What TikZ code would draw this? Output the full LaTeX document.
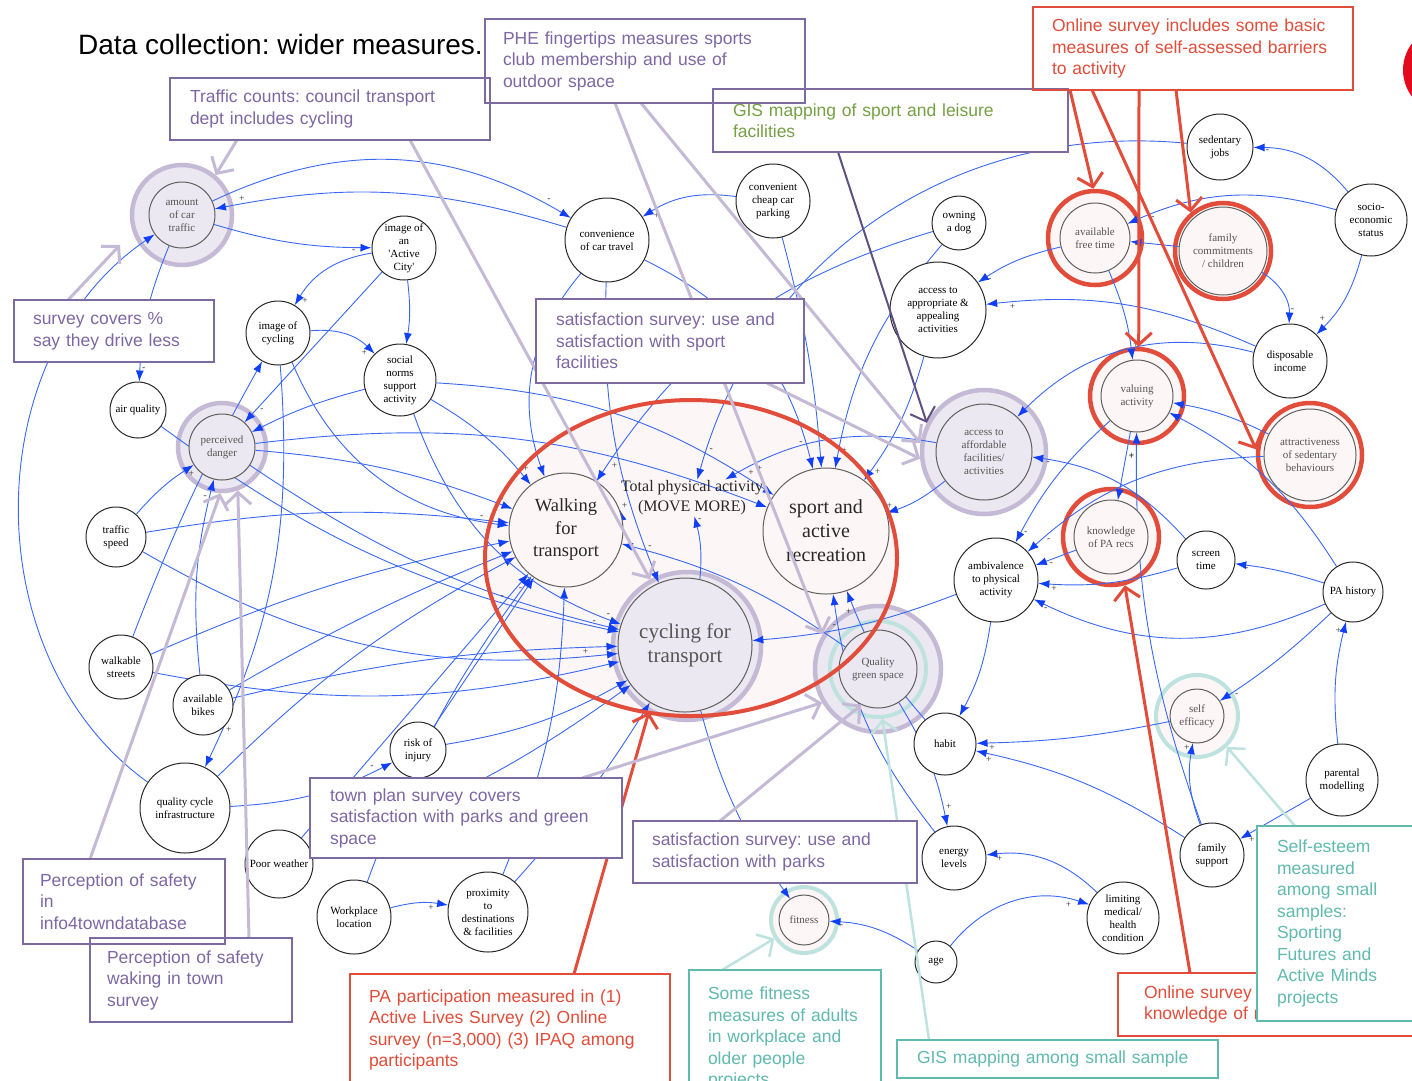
\documentclass[tikz,border=0pt]{standalone}
\usepackage{fontspec}
\setmainfont{Liberation Serif}
\newfontfamily\annofam{Liberation Sans}
\usetikzlibrary{arrows.meta,positioning}

\definecolor{linkblue}{RGB}{58,104,245}
\definecolor{tipblue}{RGB}{16,64,245}
\definecolor{ndline}{RGB}{40,40,40}
\definecolor{ndgray}{RGB}{95,95,95}
\definecolor{txtgray}{RGB}{85,85,85}
\definecolor{lavline}{RGB}{196,186,214}
\definecolor{lavfill}{RGB}{236,232,241}
\definecolor{redline}{RGB}{225,77,58}
\definecolor{pinkfill}{RGB}{253,246,246}
\definecolor{tealline}{RGB}{190,226,222}
\definecolor{tealtext}{RGB}{96,186,174}
\definecolor{boxline}{RGB}{124,106,160}
\definecolor{boxtext}{RGB}{125,104,163}
\definecolor{gistext}{RGB}{118,160,68}
\definecolor{gisline}{RGB}{96,80,130}
\definecolor{blobred}{RGB}{228,10,30}

\pgfdeclarelayer{ell}
\pgfdeclarelayer{ring}
\pgfdeclarelayer{links}
\pgfdeclarelayer{over}
\pgfdeclarelayer{boxfill}
\pgfdeclarelayer{boxes}
\pgfsetlayers{ell,ring,links,main,over,boxfill,boxes}

\newcommand{\ndfont}{\fontsize{11}{13}\selectfont}
\newcommand{\annofont}{\annofam\fontsize{17.5}{21.5}\selectfont}

\begin{document}
\frenchspacing
\begin{tikzpicture}[
  x=1pt, y=-1pt,
  nd/.style={circle, draw=ndline, line width=1pt, fill=white, inner sep=0pt,
    align=center, font=\ndfont},
  inlav/.style={nd, draw=ndgray, fill=lavfill, text=txtgray},
  inpink/.style={nd, draw=ndgray, fill=pinkfill, text=txtgray},
  bignd/.style={nd, draw=ndgray, fill=pinkfill, text=ndline},
  lavring/.style={circle, draw=lavline, line width=4.5pt, fill=lavfill, inner sep=0pt},
  redring/.style={circle, draw=redline, line width=4.5pt, fill=pinkfill, inner sep=0pt},
  tealring/.style={circle, draw=tealline, line width=4pt, fill=pinkfill, inner sep=0pt},
  lk/.style={draw=linkblue, line width=0.9pt, -{Latex[length=11pt,width=8pt,color=tipblue]}},
  sg/.style={font=\fontsize{9.5}{9.5}\selectfont, inner sep=1.5pt, text=ndline},
  anno/.style={draw=boxline, line width=1.6pt, anchor=north west, align=left,
    font=\annofont, text=boxtext, inner ysep=0pt, outer sep=0pt},
  redbox/.style={anno, draw=redline, text=redline},
  tealbox/.style={anno, draw=tealtext, text=tealtext},
  annlav/.style={draw=lavline, line width=3pt, -{Straight Barb[length=12pt,width=26pt]}},
  annred/.style={annlav, draw=redline},
  annteal/.style={annlav, draw=tealline, line width=2.5pt},
  anngis/.style={annlav, draw=gisline, line width=2pt}
]
\useasboundingbox (0,0) rectangle (1412,1080);

% concepts, left
\node[inlav,minimum size=66] (amt) at (182,215) {amount\\of car\\traffic};
\node[nd,minimum size=64] (city) at (404,248) {image of\\an\\\textquotesingle Active\\City\textquotesingle};
\node[nd,minimum size=64] (imgcyc) at (278,333) {image of\\cycling};
\node[nd,minimum size=72] (norms) at (400,380) {social\\norms\\support\\activity};
\node[nd,minimum size=56] (air) at (138,410) {air quality};
\node[inlav,minimum size=66] (danger) at (222,447) {perceived\\danger};
\node[nd,minimum size=60] (tspeed) at (116,537) {traffic\\speed};
\node[nd,minimum size=64] (walkst) at (121,667) {walkable\\streets};
\node[nd,minimum size=60] (bikes) at (203,705) {available\\bikes};
\node[nd,minimum size=90] (infra) at (185,808) {quality cycle\\infrastructure};
\node[nd,minimum size=56] (risk) at (418,750) {risk of\\injury};
\node[nd,minimum size=68] (weather) at (279,864) {Poor weather};
\node[nd,minimum size=74] (work) at (354,917) {Workplace\\location};
\node[nd,minimum size=80] (prox) at (488,912) {proximity\\to\\destinations\\\& facilities};

% concepts, top
\node[nd,minimum size=84] (conv) at (607,240) {convenience\\of car travel};
\node[nd,minimum size=74] (park) at (773,201) {convenient\\cheap car\\parking};
\node[nd,minimum size=54] (dog) at (959,223) {owning\\a dog};
\node[nd,minimum size=96] (appeal) at (938,310) {access to\\appropriate \&\\appealing\\activities};

% concepts, right
\node[inpink,minimum size=70] (free) at (1095,238) {available\\free time};
\node[inpink,minimum size=88] (family) at (1223,251) {family\\commitments\\/ children};
\node[nd,minimum size=66] (sedjobs) at (1220,147) {sedentary\\jobs};
\node[nd,minimum size=72] (ses) at (1371,220) {socio-\\economic\\status};
\node[nd,minimum size=74] (income) at (1290,361) {disposable\\income};
\node[inpink,minimum size=72] (valuing) at (1137,396) {valuing\\activity};
\node[inpink,minimum size=92] (attract) at (1310,455) {attractiveness\\of sedentary\\behaviours};
\node[inlav,minimum size=96] (afford) at (984,452) {access to\\affordable\\facilities/\\activities};
\node[inpink,minimum size=74] (know) at (1111,537) {knowledge\\of PA recs};
\node[nd,minimum size=58] (screen) at (1206,560) {screen\\time};
\node[nd,minimum size=60] (pahist) at (1353,592) {PA history};
\node[nd,minimum size=84] (ambiv) at (996,580) {ambivalence\\to physical\\activity};
\node[inpink,minimum size=54] (selfeff) at (1197,716) {self\\efficacy};
\node[nd,minimum size=62] (habit) at (945,744) {habit};
\node[nd,minimum size=72] (parent) at (1342,780) {parental\\modelling};
\node[nd,minimum size=64] (famsup) at (1212,855) {family\\support};
\node[nd,minimum size=64] (energy) at (954,858) {energy\\levels};
\node[inpink,minimum size=50] (fit) at (804,920) {fitness};
\node[nd,minimum size=42] (age) at (936,962) {age};
\node[nd,minimum size=72] (medical) at (1123,918) {limiting\\medical/\\health\\condition};
\node[inlav,minimum size=78] (green) at (878,669) {Quality\\green space};

% outcomes
\node[bignd,minimum size=114,font=\fontsize{18.5}{22.5}\selectfont] (walk) at (566,530) {Walking\\for\\transport};
\node[bignd,minimum size=126,font=\fontsize{20}{24}\selectfont] (sport) at (826,531) {sport and\\active\\recreation};
\node[inlav,minimum size=134,font=\fontsize{21}{24}\selectfont] (cycle) at (685,645) {cycling for\\transport};
\node[align=center,text=ndline,inner sep=1pt,font=\fontsize{16}{20}\selectfont] (total) at (692,498) {Total physical activity\\(MOVE MORE)};

\begin{pgfonlayer}{ring}
\node[lavring,minimum size=100] (amtR) at (amt) {};
\node[lavring,minimum size=88] (dangerR) at (danger) {};
\node[lavring,minimum size=124] (affordR) at (afford) {};
\node[lavring,minimum size=148] (cycleR) at (687,646) {};
\node[lavring,minimum size=126] (greenR) at (green) {};
\node[tealring,fill=lavfill,minimum size=96] (greenT) at (green) {};
\node[redring,minimum size=94] (freeR) at (free) {};
\node[redring,minimum size=96] (familyR) at (family) {};
\node[redring,minimum size=94] (valuingR) at (valuing) {};
\node[redring,minimum size=104] (attractR) at (attract) {};
\node[redring,minimum size=96] (knowR) at (know) {};
\node[tealring,minimum size=82] (selfeffR) at (selfeff) {};
\node[tealring,minimum size=66] (fitR) at (fit) {};
\end{pgfonlayer}

\begin{pgfonlayer}{ell}
\fill[pinkfill] (691,558) ellipse [x radius=206, y radius=158];
\end{pgfonlayer}

\begin{pgfonlayer}{links}
% left cluster
\draw[lk] (amt) to[bend left=28] node[sg,pos=.93,auto]{-} (conv);
\draw[lk] (conv) to[bend right=14] node[sg,pos=.92,auto,swap]{+} (amt);
\draw[lk] (amt) to[bend right=8] node[sg,pos=.9,auto,swap]{-} (city);
\draw[lk] (amt) to[bend right=10] node[sg,pos=.9,auto]{-} (air);
\draw[lk] (infra) to[bend left=55] (amt);
\draw[lk] (city) to[bend right=25] node[sg,pos=.9,auto]{+} (imgcyc);
\draw[lk] (city) to[bend left=8] (norms);
\draw[lk] (city) -- node[sg,pos=.9,auto]{-} (danger);
\draw[lk] (imgcyc) to[bend left=25] node[sg,pos=.9,auto,swap]{+} (norms);
\draw[lk] (walkst) to[bend left=4] (imgcyc);
\draw[lk] (tspeed) to[bend left=8] node[sg,pos=.9,auto,swap]{+} (danger);
\draw[lk] (danger) to[bend left=8] node[sg,pos=.95,auto]{-} (walk);
\draw[lk] (danger) to[bend left=14] (sport);
\draw[lk] (norms) to[bend right=6] (danger);
\draw[lk] (tspeed) to[bend left=8] node[sg,pos=.95,auto]{+} (walk);
\draw[lk] (air) to[bend right=12] node[sg,pos=.95,auto]{-} (cycle);
\draw[lk] (danger) to[bend right=10] (cycle);
\draw[lk] (tspeed) to[bend right=18] node[sg,pos=.95,auto]{+} (cycle);
\draw[lk] (walkst) to[bend left=6] (walk);
\draw[lk] (walkst) to[bend right=12] (cycle);
\draw[lk] (bikes) to[bend left=6] (cycle);
\draw[lk] (bikes) to[bend left=4] (walk);
\draw[lk] (imgcyc) to[bend left=15] node[sg,pos=.9,auto]{+} (infra);
\draw[lk] (infra) to[bend left=8] (walk);
\draw[lk] (infra) to[bend right=12] node[sg,pos=.9,auto]{-} (risk);
\draw[lk] (risk) -- node[sg,pos=.9,auto]{-} (walk);
\draw[lk] (risk) to[bend right=10] (cycle);
\draw[lk] (weather) -- node[sg,pos=.9,auto]{-} (walk);
\draw[lk] (weather) to[bend right=8] (cycle);
\draw[lk] (work) to[bend left=12] node[sg,pos=.8,auto,swap]{+} (prox);
\draw[lk] (work) to[bend left=8] (walk);
\draw[lk] (prox) to[bend right=5] (cycle);
\draw[lk] (prox) to[bend right=10] (walk);
\draw[lk] (norms) to[bend left=10] node[sg,pos=.9,auto]{+} (walk);
\draw[lk] (norms) to[bend right=25] node[sg,pos=.95,auto]{-} (cycle);
\draw[lk] (norms) to[bend left=15] node[sg,pos=.92,auto]{+} (sport);
\draw[lk] (imgcyc) to[bend right=30] node[sg,pos=.9,auto]{-} (walk);
\draw[lk] (bikes) to[bend left=10] node[sg,pos=.9,auto]{-} (danger);
% top cluster
\draw[lk] (conv) to[bend right=30] node[sg,pos=.9,auto]{-} (walk);
\draw[lk] (conv) to[bend right=12] node[sg,pos=.9,auto]{-} (cycle);
\draw[lk] (conv) to[bend left=25] node[sg,pos=.9,auto,swap]{-} (sport);
\draw[lk] (park) to[bend right=20] node[sg,pos=.9,auto]{+} (conv);
\draw[lk] (park) to[bend left=5] node[sg,pos=.9,auto]{+} (sport);
\draw[lk] (dog) to[bend right=20] node[sg,pos=.95,auto]{+} (walk);
\draw[lk] (dog) to[bend right=15] node[sg,pos=.92,auto]{+} (sport);
\draw[lk] (appeal) to[bend left=10] node[sg,pos=.9,auto]{+} (sport);
\draw[lk] (afford) to[bend left=10] node[sg,pos=.9,auto,swap]{+} (sport);
\draw[lk] (afford) to[bend right=20] node[sg,pos=.86,auto]{+} (total);
\draw[lk] (sedjobs) to[bend right=40] node[sg,pos=.95,auto]{-} (total);
% right cluster
\draw[lk] (ses) to[bend right=20] node[sg,pos=.9,auto]{-} (free);
\draw[lk] (ses) to[bend right=25] node[sg,pos=.85,auto]{-} (sedjobs);
\draw[lk] (ses) to[bend left=15] node[sg,pos=.85,auto,swap]{+} (income);
\draw[lk] (family) to[bend left=30] node[sg,pos=.85,auto]{-} (income);
\draw[lk] (family) -- node[sg,pos=.8,auto]{-} (free);
\draw[lk] (free) to[bend left=8] node[sg,pos=.9,auto]{+} (valuing);
\draw[lk] (free) to[bend right=10] node[sg,pos=.9,auto]{-} (appeal);
\draw[lk] (income) to[bend right=15] node[sg,pos=.93,auto]{+} (appeal);
\draw[lk] (income) to[bend right=30] (afford);
\draw[lk] (screen) to[bend right=20] node[sg,pos=.9,auto]{-} (afford);
\draw[lk] (valuing) -- node[sg,pos=.3,auto]{+} (know);
\draw[lk] (attract) to[bend right=8] (valuing);
\draw[lk] (pahist) to[bend right=15] (valuing);
\draw[lk] (valuing) to[bend right=10] node[sg,pos=.92,auto]{-} (ambiv);
\draw[lk] (attract) to[bend right=20] node[sg,pos=.92,auto]{-} (ambiv);
\draw[lk] (know) -- node[sg,pos=.7,auto]{-} (ambiv);
\draw[lk] (screen) to[bend left=10] node[sg,pos=.9,auto]{+} (ambiv);
\draw[lk] (pahist) to[bend right=5] node[sg,pos=.85,auto]{-} (screen);
\draw[lk] (pahist) to[bend left=25] node[sg,pos=.95,auto]{-} (ambiv);
\draw[lk] (pahist) to[bend left=5] node[sg,pos=.9,auto]{-} (selfeff);
\draw[lk] (parent) to[bend left=10] node[sg,pos=.9,auto]{+} (pahist);
\draw[lk] (parent) -- node[sg,pos=.9,auto]{+} (famsup);
\draw[lk] (famsup) to[bend left=15] node[sg,pos=.9,auto]{+} (selfeff);
\draw[lk] (famsup) to[bend left=10] node[sg,pos=.95,auto]{+} (valuing);
\draw[lk] (selfeff) to[bend left=5] node[sg,pos=.93,auto]{+} (habit);
\draw[lk] (famsup) to[bend right=10] node[sg,pos=.93,auto]{+} (habit);
\draw[lk] (ambiv) to[bend left=10] node[sg,pos=.9,auto]{-} (habit);
\draw[lk] (habit) to[bend left=10] node[sg,pos=.9,auto]{+} (sport);
\draw[lk] (ambiv) to[bend left=8] (cycle);
% bottom cluster
\draw[lk] (age) to[bend right=15] node[sg,pos=.85,auto]{-} (fit);
\draw[lk] (age) to[bend left=35] node[sg,pos=.9,auto,swap]{+} (medical);
\draw[lk] (medical) to[bend right=25] node[sg,pos=.9,auto]{+} (energy);
\draw[lk] (green) to[bend left=10] node[sg,pos=.9,auto]{+} (energy);
\draw[lk] (cycle) to[bend right=10] node[sg,pos=.9,auto]{+} (fit);
\draw[lk] (energy) to[bend left=15] node[sg,pos=.9,auto]{-} (sport);
\draw[lk] (green) to[bend right=10] (walk);
% inside the ellipse
\draw[lk] (walk) to[bend left=5] node[sg,pos=.7,auto,swap]{+} (total);
\draw[lk] (cycle) to[bend right=10] node[sg,pos=.9,auto,swap]{-} (total);
\end{pgfonlayer}

% data boxes
\begin{pgfonlayer}{boxes}
\node[font=\annofam\fontsize{28}{34}\selectfont,anchor=west,inner sep=0pt] (title) at (78,44) {Data collection: wider measures.};
\node[anno,minimum height=62,text width=280,inner xsep=20] (tc) at (170,78) {Traffic counts: council transport\\dept includes cycling};
\node[anno,minimum height=84,text width=284,inner xsep=18] (phe) at (485,19) {PHE fingertips measures sports\\club membership and use of\\outdoor space};
\node[anno,text=gistext,minimum height=63,text width=315,inner xsep=20] (gis) at (713,89) {GIS mapping of sport and leisure\\facilities};
\node[redbox,minimum height=83,text width=282,inner xsep=19] (onl) at (1033,7) {Online survey includes some basic\\measures of self-assessed barriers\\to activity};
\node[anno,minimum height=62,text width=162,inner xsep=19] (scov) at (14,300) {survey covers \%\\say they drive less};
\node[anno,minimum height=84,text width=228,inner xsep=20] (ssport) at (536,299) {satisfaction survey: use and\\satisfaction with sport\\facilities};
\node[anno,minimum height=80,text width=272,inner xsep=20] (town) at (310,778) {town plan survey covers\\satisfaction with parks and green\\space};
\node[anno,minimum height=62,text width=246,inner xsep=19] (sparks) at (633,821) {satisfaction survey: use and\\satisfaction with parks};
\node[anno,minimum height=85,text width=168,inner xsep=17] (perc1) at (23,859) {Perception of safety\\in\\info4towndatabase};
\node[anno,minimum height=84,text width=168,inner xsep=17] (perc2) at (90,938) {Perception of safety\\waking in town\\survey};
\node[redbox,minimum height=112,text width=282,inner xsep=19] (pa) at (350,974) {PA participation measured in (1)\\Active Lives Survey (2) Online\\survey (n=3,000)  (3) IPAQ among\\participants};
\node[tealbox,minimum height=136,text width=154,inner xsep=19] (fitb) at (689,970) {Some fitness\\measures of adults\\in workplace and\\older people\\projects};
\node[tealbox,minimum height=38,text width=281,inner xsep=20] (gism) at (897,1040) {GIS mapping among small sample};
\node[tealbox,fill=white,minimum height=195,text width=123,inner xsep=20] (esteem) at (1257,826) {Self-esteem\\measured\\among small\\samples:\\Sporting\\Futures and\\Active Minds\\projects};
\end{pgfonlayer}

\begin{pgfonlayer}{boxfill}
\foreach \b in {tc,phe,gis,onl,scov,ssport,town,sparks,perc1,perc2,pa,fitb,gism}
  \fill[white] (\b.north west) rectangle (\b.south east);
\end{pgfonlayer}

\begin{pgfonlayer}{over}
\draw[redline, line width=4pt] (691,558) ellipse [x radius=206, y radius=158];
\node[redbox,fill=white,minimum height=63,text width=250,inner xsep=26] (recs) at (1118,973) {Online survey\\knowledge of recs};
\fill[blobred] (1447,70) circle[radius=44];
\coordinate (scovtip) at (120,245);
\draw[annlav] ([xshift=67]tc.south west) -- (amtR.50);
\draw[annlav] ([xshift=54]scov.north west) -- (scovtip);
\draw[annlav] ([xshift=240]tc.south west) -- (cycleR.119);
\draw[annlav] ([xshift=130]phe.south west) -- (greenR.148);
\draw[annlav] ([xshift=156]phe.south west) -- (affordR.172);
\draw[annlav] ([xshift=231]ssport.south west) -- (affordR.186);
\draw[anngis] ([xshift=125]gis.south west) -- (affordR.153);
\draw[annred] ([xshift=37]onl.south west) -- (freeR.92);
\draw[annred] ([xshift=59]onl.south west) -- (attractR.174);
\draw[annred] ([xshift=106]onl.south west) -- (valuingR.88);
\draw[annred] ([xshift=143]onl.south west) -- (familyR.130);
\draw[annred] ([xshift=224]pa.north west) -- (cycleR.240);
\draw[annred] ([xshift=72]recs.north west) -- (knowR.286);
\draw[annteal] ([xshift=32]gism.north west) -- (greenT.275);
\draw[annteal] ([xshift=38]esteem.north west) -- (selfeffR.314);
\draw[annteal] ([xshift=33]fitb.north west) -- (fitR.212);
\draw[annlav] ([xshift=272]town.north west) -- (greenR.211);
\draw[annlav] ([xshift=87]sparks.north west) -- (green.245);
\draw[annlav] ([xshift=67]perc1.north west) -- (dangerR.268);
\draw[annlav] ([xshift=159]perc2.north west) -- (dangerR.290);
\end{pgfonlayer}
\end{tikzpicture}
\end{document}
